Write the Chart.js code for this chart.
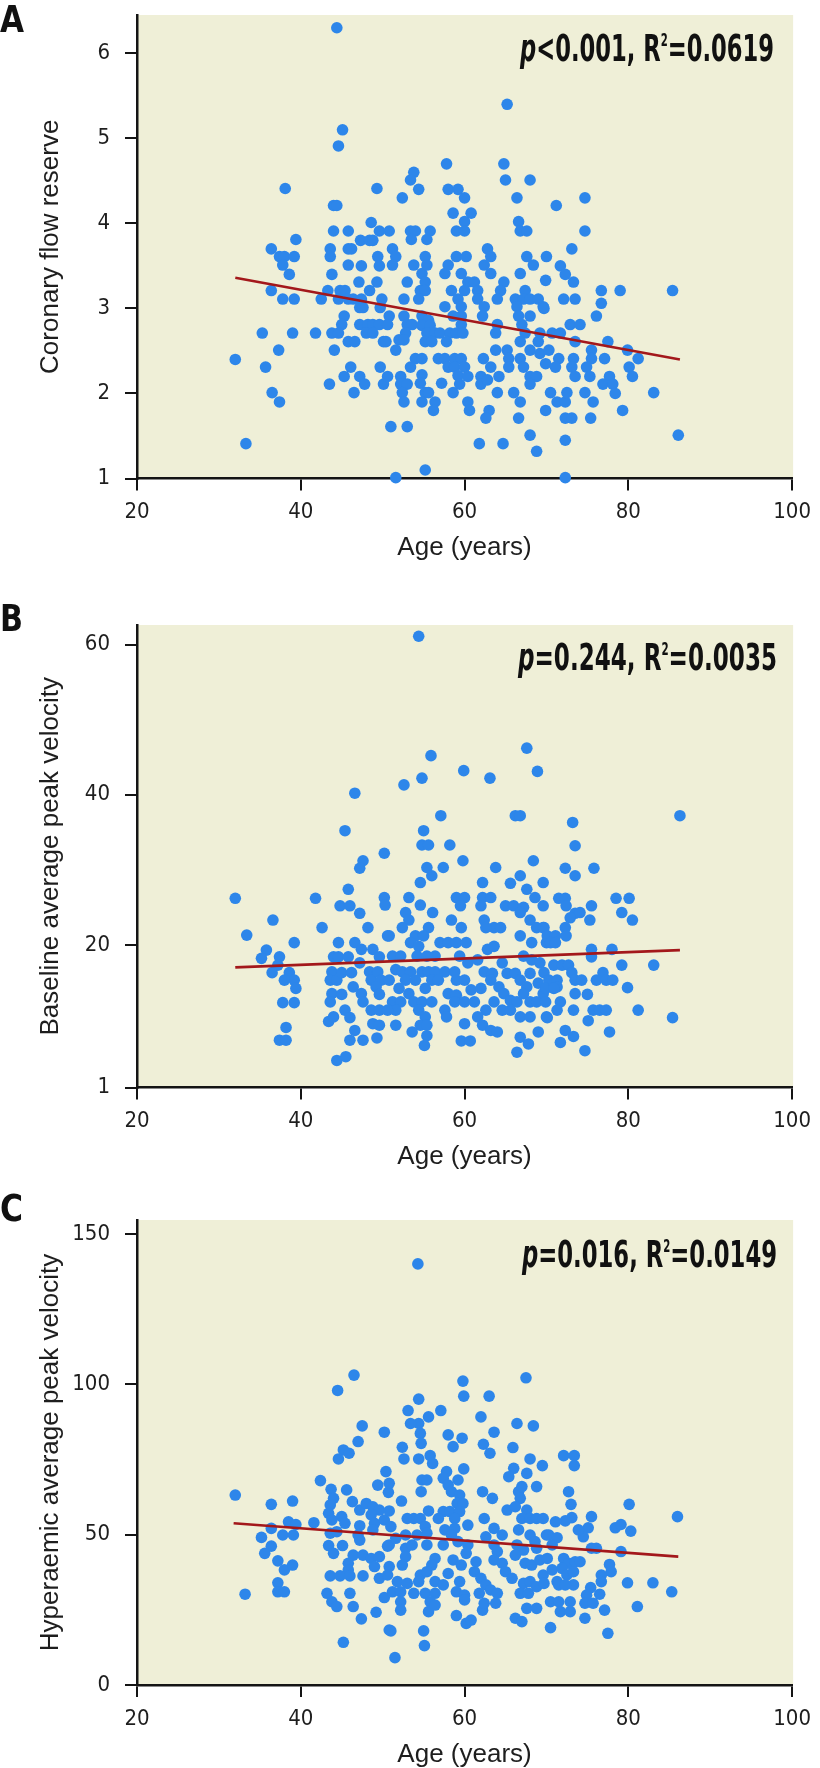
<!DOCTYPE html>
<html><head><meta charset="utf-8">
<script src="https://cdn.jsdelivr.net/npm/chart.js@4.4.1/dist/chart.umd.min.js"></script>
<style>
html,body{margin:0;padding:0;background:#fff;width:820px;height:1768px;overflow:hidden;position:relative;}
canvas{position:absolute;left:0;}
</style></head><body>
<canvas id="cA" width="820" height="600" style="top:-25px"></canvas>
<canvas id="cB" width="820" height="600" style="top:585px"></canvas>
<canvas id="cC" width="820" height="600" style="top:1180px"></canvas>
<script>
// ---------- DATA ----------
const xTicks = [20, 40, 60, 80, 100];

// Panel A: Coronary flow reserve
const yTicksA = [1, 2, 3, 4, 5, 6];
const agesA = [44.4,45.1,44.6,38.1,49.3,44.0,44.4,48.6,44.0,45.8,49.6,39.4,47.3,48.4,48.8,36.4,43.6,45.8,46.2,37.4,38.0,39.2,43.6,49.4,37.8,45.8,47.4,49.6,38.6,43.8,47.1,49.3,36.4,43.3,44.8,45.4,48.4,37.8,39.2,42.5,44.6,45.8,46.4,47.4,49.9,47.2,47.6,49.7,45.3,45.0,47.2,48.2,48.8,49.6,35.3,39.0,41.8,43.8,44.6,48.0,48.8,45.8,46.6,50.1,37.3,44.1,32.0,35.7,46.1,49.7,45.3,47.2,36.5,43.5,47.8,50.1,37.4,46.5,33.3,
65.2,57.8,64.8,53.8,53.4,54.4,52.4,58.0,59.2,60.0,65.0,68.0,66.4,58.6,60.0,60.8,59.0,60.0,50.8,53.4,54.0,55.8,55.4,66.6,66.8,67.6,51.2,51.6,53.5,62.8,63.2,62.4,63.2,59.0,60.2,55.2,67.6,68.4,51.2,53.8,54.8,55.4,58.0,57.6,59.6,60.4,66.8,53.0,55.2,64.8,61.2,61.6,54.6,55.2,58.4,59.2,60.0,64.4,64.0,67.4,52.6,54.4,57.6,59.6,61.6,62.4,66.2,67.2,68.0,69.0,66.4,69.6,50.8,52.6,54.8,55.6,59.6,58.6,62.2,66.6,68.0,50.6,53.0,53.6,54.8,55.8,55.4,59.6,64.0,67.0,52.8,52.0,52.6,56.4,57.0,58.2,59.0,59.8,63.8,67.4,69.2,50.4,55.2,56.0,57.8,63.8,66.8,68.0,69.0,69.2,51.6,54.0,54.8,56.8,57.6,58.8,59.6,62.3,65.2,65.4,66.8,67.2,53.4,58.0,58.8,60.0,63.2,65.4,50.6,52.2,54.8,59.2,60.4,62.0,64.2,68.0,68.8,52.2,53.0,54.6,55.2,57.2,58.6,59.4,62.0,62.8,64.0,66.0,66.8,68.0,52.4,52.6,54.8,55.6,56.4,56.2,60.4,60.6,63.0,62.6,66.6,51.0,53.0,61.8,64.7,68.0,68.8,51.6,55.2,
74.7,71.2,74.7,73.1,70.0,71.7,72.3,69.9,73.3,76.7,79.0,85.4,72.1,73.5,76.7,69.7,76.1,72.9,74.1,70.7,71.7,73.5,77.5,75.5,79.9,70.3,71.5,73.3,75.5,77.1,81.2,69.9,71.1,73.1,74.9,80.1,80.5,73.5,75.3,77.7,76.9,78.1,78.4,70.5,71.3,72.3,72.5,74.7,75.7,83.1,69.9,72.3,73.1,75.4,79.3,72.3,86.1,72.3];
const cfrA = [6.30,5.10,4.91,4.41,4.41,4.21,4.21,4.01,3.91,3.91,3.91,3.81,3.80,3.80,3.80,3.70,3.70,3.70,3.70,3.61,3.61,3.61,3.61,3.61,3.51,3.51,3.50,3.50,3.40,3.40,3.31,3.31,3.21,3.21,3.21,3.21,3.21,3.11,3.11,3.11,3.11,3.11,3.11,3.11,3.11,3.01,3.01,3.01,2.91,2.81,2.81,2.81,2.81,2.81,2.71,2.71,2.71,2.71,2.71,2.71,2.71,2.61,2.61,2.61,2.51,2.51,2.40,2.31,2.31,2.31,2.20,2.20,2.01,2.11,2.11,2.11,1.90,2.01,1.41,
5.40,4.70,4.70,4.60,4.51,4.40,4.30,4.40,4.40,4.30,4.51,4.51,4.30,4.12,4.02,4.12,3.91,3.91,3.91,3.91,3.91,3.91,3.81,4.02,3.91,3.91,3.70,3.61,3.81,3.70,3.61,3.51,3.41,3.61,3.61,3.61,3.61,3.51,3.51,3.51,3.41,3.51,3.51,3.41,3.41,3.31,3.41,3.31,3.31,3.31,3.31,3.21,3.21,3.21,3.21,3.11,3.21,3.21,3.11,3.21,3.11,3.11,3.02,3.02,3.11,3.02,3.11,3.11,3.11,3.11,3.02,3.02,2.91,2.91,2.91,2.86,2.91,2.91,2.91,2.91,2.91,2.81,2.81,2.81,2.80,2.80,2.71,2.81,2.81,2.81,2.71,2.63,2.63,2.71,2.71,2.71,2.71,2.71,2.71,2.71,2.71,2.61,2.61,2.61,2.61,2.51,2.61,2.51,2.61,2.47,2.51,2.41,2.41,2.41,2.41,2.41,2.41,2.41,2.51,2.41,2.41,2.31,2.31,2.31,2.31,2.31,2.31,2.31,2.20,2.20,2.22,2.21,2.20,2.20,2.20,2.20,2.20,2.11,2.11,2.12,2.01,2.12,2.01,2.11,2.11,2.16,2.01,2.01,1.90,2.11,2.01,1.90,1.90,2.01,1.90,1.80,1.90,1.80,1.80,1.71,1.71,1.61,1.61,1.41,1.41,1.51,1.32,1.01,1.10,
4.30,4.21,3.91,3.70,3.61,3.50,3.40,3.33,3.31,3.21,3.21,3.21,3.11,3.11,3.06,3.00,2.91,2.81,2.81,2.71,2.71,2.61,2.61,2.51,2.51,2.51,2.41,2.41,2.41,2.41,2.41,2.35,2.31,2.31,2.31,2.31,2.20,2.20,2.20,2.20,2.11,2.11,2.00,2.01,1.90,1.90,2.01,2.01,1.90,2.01,1.80,1.71,1.71,1.71,1.80,1.45,1.51,1.01];
const fitAgesA = [32.0, 86.3];
const fitCfrA = [3.36, 2.40];
const statsA = ['<0.001', '0.0619'];

// Panel B: Baseline average peak velocity
const yTicksB = [1, 20, 40, 60];
const agesB = [46.6,45.4,50.2,47.6,47.2,32.0,41.8,45.8,44.8,46.0,47.2,50.2,50.3,36.6,42.6,48.2,50.6,33.4,39.2,35.8,35.2,37.4,37.2,36.5,38.6,39.2,39.4,38.0,37.8,39.2,38.2,37.4,38.2,44.6,46.6,44.0,44.6,45.8,47.4,48.8,49.6,43.8,43.6,44.4,45.0,46.2,47.2,48.4,48.6,49.4,49.8,46.4,43.8,45.0,43.6,47.4,47.6,49.2,49.6,45.4,46.0,48.6,49.6,43.4,44.0,46.6,46.0,47.6,48.8,49.6,49.3,44.4,45.5,
54.4,55.9,67.6,68.9,59.9,63.1,54.8,52.6,57.1,66.2,66.8,55.0,54.8,55.6,58.2,59.8,68.4,55.4,56.0,57.4,54.6,62.2,63.8,65.6,66.8,69.6,53.2,59.0,60.0,62.2,63.2,67.6,68.6,54.6,59.5,62.0,65.0,66.0,67.2,69.6,52.8,56.1,53.2,58.4,62.4,63.6,62.6,64.4,66.8,68.0,68.8,69.6,52.4,55.6,59.6,50.8,54.0,55.0,53.4,54.4,57.0,58.0,59.0,60.2,62.8,63.6,66.8,68.2,70.0,51.2,52.2,54.2,55.4,56.4,59.4,60.4,61.6,64.6,67.2,68.2,69.2,51.6,52.4,53.4,54.8,55.6,56.4,57.6,58.8,62.4,63.4,65.2,66.2,68.0,50.8,52.8,54.0,56.0,56.8,59.0,60.0,63.2,64.2,66.8,67.6,69.0,52.0,53.2,55.2,58.0,59.0,60.8,62.0,64.8,65.6,67.2,68.0,69.6,51.2,52.2,53.8,54.8,56.0,58.8,60.0,61.2,63.6,66.4,68.8,51.6,50.6,54.4,55.2,57.6,57.8,62.6,64.6,65.6,66.8,68.0,70.0,51.6,54.6,55.4,60.0,61.6,62.2,63.2,64.0,53.6,55.4,59.6,60.7,69.0,66.8,67.8,55.1,66.4,
86.3,73.2,73.5,72.3,73.5,75.8,78.5,80.1,71.5,72.3,72.4,75.5,79.2,80.5,73.5,74.1,72.9,75.3,72.3,72.4,69.7,70.1,71.1,70.5,71.1,75.5,75.5,78.0,79.2,83.1,70.9,71.9,72.7,73.1,69.7,76.9,76.1,77.3,78.1,70.3,71.3,71.3,73.5,74.3,79.9,69.9,70.9,73.5,75.0,69.9,71.7,71.3,73.3,75.7,76.5,77.3,81.2,70.1,75.1,85.4,72.3,73.3,71.7,77.7,74.7];
const bapvB = [40.2,35.2,32.2,31.2,30.2,26.2,26.2,27.4,25.2,25.2,24.2,26.3,25.3,23.3,22.3,22.3,21.2,21.3,20.3,19.3,18.2,18.4,17.3,16.3,16.3,15.3,14.2,15.3,12.3,12.3,9.0,7.3,7.3,20.3,20.3,18.4,18.4,18.4,19.4,19.4,18.4,16.4,15.3,15.3,16.3,16.3,17.6,16.4,15.3,16.4,15.3,14.4,13.5,13.4,12.4,13.5,12.4,14.4,13.4,11.3,10.3,11.3,11.3,9.8,10.4,8.6,7.3,7.3,9.5,9.3,7.6,4.6,5.1,
61.1,45.2,46.2,43.1,43.2,42.2,42.2,41.3,37.2,37.2,37.2,35.2,33.3,33.3,33.3,31.2,31.2,30.3,29.2,30.3,28.3,28.3,30.3,28.2,29.2,28.3,26.3,26.3,26.3,26.3,26.3,27.4,26.3,25.3,25.2,25.2,25.2,25.2,25.0,25.2,24.3,24.3,23.3,23.3,23.3,22.3,22.3,22.3,24.3,23.3,22.3,22.3,22.3,22.3,22.3,21.2,21.2,21.2,20.3,19.8,20.3,20.3,20.3,20.3,19.4,19.8,21.2,20.3,20.3,18.5,18.5,18.5,18.5,18.5,18.5,17.6,18.0,17.6,18.5,18.0,17.6,16.7,16.4,16.4,16.4,16.4,16.4,16.4,16.4,16.4,16.2,16.2,16.2,16.2,15.3,15.3,15.3,15.3,15.3,15.3,15.3,15.3,14.4,15.3,14.4,14.9,14.2,13.5,14.2,13.5,13.3,14.0,14.2,13.5,12.6,13.5,12.4,13.5,12.4,12.4,12.4,12.4,12.4,12.4,12.4,12.4,12.4,12.4,12.4,11.3,11.3,11.3,10.4,11.3,10.4,11.3,11.3,11.3,10.4,10.4,10.4,9.3,9.3,9.3,9.5,10.4,9.3,8.6,8.4,8.4,7.9,7.2,7.2,8.4,7.7,6.8,6.6,5.7,
37.2,36.3,33.2,30.2,29.2,30.2,26.2,26.2,26.2,26.2,25.2,25.2,24.3,23.3,24.2,24.3,23.6,23.3,22.3,21.2,22.3,21.2,21.2,20.3,20.3,19.4,18.4,19.4,17.3,17.3,17.3,17.3,17.3,16.3,16.3,16.3,15.3,15.3,15.3,15.3,15.3,14.4,15.3,15.3,14.3,14.2,14.2,13.5,13.4,12.4,12.4,11.3,11.3,11.3,11.3,11.3,11.3,10.3,9.9,10.3,8.6,7.8,7.0,8.4,5.9];
const fitAgesB = [32.0, 86.3];
const fitBapvB = [17.0, 19.3];
const statsB = ['=0.244', '0.0035'];

// Panel C: Hyperaemic average peak velocity
const yTicksC = [0, 50, 100, 150];
const agesC = [46.5,44.5,47.5,50.2,47.0,45.2,45.9,44.6,50.4,49.4,50.7,42.4,43.7,45.6,32.0,39.0,36.4,44.0,43.6,46.3,47.2,48.0,48.8,49.6,43.4,43.8,45.0,45.4,48.6,49.0,50.2,41.6,38.5,39.4,36.4,47.2,43.6,44.4,35.2,37.8,39.1,47.0,47.2,48.8,36.4,35.6,43.4,44.0,45.1,50.6,37.2,38.0,39.0,46.4,45.8,47.6,48.6,49.6,45.8,49.0,49.6,43.6,44.8,46.0,47.6,37.2,37.2,38.0,33.2,43.2,43.8,44.4,46.0,46.4,47.4,49.2,50.2,50.8,45.2,
54.3,59.8,67.5,59.9,63.0,54.4,53.1,57.1,55.6,62.0,54.4,54.6,54.7,53.4,66.4,68.4,58.0,58.6,59.7,63.6,62.3,63.1,65.9,52.4,52.6,54.4,55.8,56.1,68.0,69.5,59.9,66.0,57.8,57.4,59.2,54.8,55.4,67.6,65.4,50.8,58.0,58.4,68.8,54.7,62.2,63.4,66.6,67.0,66.8,52.3,59.4,59.1,59.8,65.2,66.2,50.8,55.6,57.4,58.2,59.4,67.6,53.0,53.8,54.6,56.8,58.8,62.4,67.0,68.0,68.8,69.6,51.0,55.2,55.4,57.6,58.8,60.4,63.6,64.6,66.6,52.8,54.2,58.4,59.2,62.6,68.0,68.6,70.0,50.8,51.6,52.8,53.6,55.4,57.4,60.4,60.2,63.6,64.0,66.4,67.2,66.2,68.8,52.8,52.4,56.4,56.0,58.6,59.6,61.4,63.6,64.6,67.4,68.2,69.2,50.8,50.6,54.6,55.4,58.0,61.2,62.0,65.0,65.8,69.6,51.8,53.0,54.4,56.4,57.4,59.4,62.6,63.2,67.2,68.0,51.2,52.2,53.8,55.2,56.4,59.0,60.0,61.8,64.0,66.8,67.8,68.8,52.2,55.8,60.0,63.8,52.2,55.6,56.4,62.2,62.4,67.6,68.8,59.0,60.2,60.8,66.2,67.0,51.0,55.0,55.1,51.5,
72.1,73.4,73.4,72.7,73.0,80.1,86.0,75.5,73.1,72.3,71.1,75.1,74.5,73.9,78.4,79.1,80.3,70.3,71.3,70.7,75.5,76.1,79.1,72.1,72.7,70.1,73.5,74.1,77.7,77.9,70.7,71.9,72.5,73.3,76.7,76.7,69.7,71.3,71.5,73.3,72.3,79.9,83.0,75.4,76.5,74.9,74.7,85.3,70.5,71.5,72.9,75.7,71.7,72.9,77.1,81.1,74.7,70.5,77.5];
const hapvC = [103.1,98.0,86.2,84.1,81.0,78.2,77.1,75.2,71.0,66.5,64.1,68.0,65.1,64.9,63.2,61.2,60.1,62.1,59.9,61.0,58.2,60.4,59.3,58.2,57.1,54.9,56.0,53.8,56.6,53.8,54.9,54.0,54.3,53.4,52.1,53.0,50.5,51.0,49.1,49.9,49.9,49.9,48.2,51.6,46.2,43.8,46.4,43.8,46.4,46.2,41.3,38.3,39.9,43.2,40.5,43.2,42.1,42.7,38.3,39.4,35.5,36.3,36.3,36.3,36.3,34.0,31.0,31.0,30.2,30.5,27.7,26.1,30.5,26.1,22.0,24.2,29.1,18.3,14.2,
140.1,101.1,102.2,96.1,96.1,95.1,91.3,91.3,89.2,89.2,87.0,83.7,80.4,87.0,87.0,86.2,83.2,79.3,82.1,84.1,80.1,77.1,79.0,79.1,75.2,75.2,76.3,73.7,75.2,73.0,71.9,72.1,71.0,68.8,68.2,68.2,68.2,70.4,69.3,67.1,66.5,64.3,66.0,64.3,64.3,62.1,64.3,66.0,62.1,61.2,63.2,60.4,60.4,58.2,59.3,57.9,57.9,57.7,57.7,57.7,58.2,55.4,55.4,55.4,55.4,55.4,55.4,55.4,55.4,55.4,55.4,52.7,52.7,50.5,51.6,52.1,53.2,52.1,49.9,51.6,49.9,49.9,49.9,47.7,49.3,49.9,47.7,49.9,46.6,48.8,45.5,46.6,46.6,46.6,46.6,43.8,46.6,44.4,46.6,44.9,43.2,45.5,42.7,39.9,42.1,39.9,41.6,39.9,41.0,41.6,40.5,40.5,39.9,41.6,39.4,36.6,36.6,37.7,37.1,37.7,35.5,37.7,35.5,36.6,34.4,33.8,34.4,34.4,33.3,34.4,33.3,31.6,33.8,34.4,31.0,31.0,30.5,30.5,30.5,31.0,29.9,30.5,30.5,30.5,30.5,32.7,27.7,27.7,28.3,27.2,24.9,24.4,26.6,24.9,27.2,25.5,25.5,23.1,20.5,21.6,22.2,21.1,18.0,18.0,13.1,9.1,
76.3,76.3,73.0,64.3,60.1,60.1,56.0,56.0,55.7,54.6,54.3,52.3,49.3,51.6,52.3,53.4,51.2,49.9,49.0,46.6,45.5,45.5,44.4,42.1,40.5,42.1,41.0,41.0,40.1,37.7,38.3,38.8,36.6,37.7,36.6,34.4,33.8,34.4,33.3,33.3,33.3,34.0,34.0,32.4,30.2,29.9,27.2,31.0,27.7,27.7,27.7,27.2,24.4,24.4,24.9,26.1,22.2,19.1,17.2];
const fitAgesC = [31.8, 86.1];
const fitHapvC = [53.8, 42.7];
const statsC = ['=0.016', '0.0149'];

// ---------- STYLE ----------
const BG = '#efefd7';
const DOT = '#2d86ea';
const LINE = '#a3181b';
const AXIS = '#141414';
const TXT = '#1e1e1e';
const NARROW = '"Liberation Sans Narrow","Arial Narrow","DejaVu Sans Condensed",sans-serif';
const REG = '"Liberation Sans",Arial,Helvetica,sans-serif';
const CH = 600, PADTOP = 40;

function drawParts(ctx, parts, left, right, base) {
  let total = 0;
  parts.forEach(p => { ctx.font = p.font; p.w = ctx.measureText(p.t).width; total += p.w; });
  const sx = (right - left) / total;
  ctx.save();
  ctx.translate(left, base);
  ctx.scale(sx, 1);
  ctx.fillStyle = '#111';
  ctx.textBaseline = 'alphabetic';
  ctx.textAlign = 'left';
  let x = 0;
  parts.forEach(p => { ctx.font = p.font; ctx.fillText(p.t, x, p.dy || 0); x += p.w; });
  ctx.restore();
}

function panelPlugin(opt) {
  return {
    id: 'panelDeco',
    beforeDraw(chart) {
      const {ctx, chartArea: a} = chart;
      ctx.save();
      ctx.fillStyle = BG;
      ctx.fillRect(a.left, a.top, a.right - a.left + 1, a.bottom - a.top);
      ctx.restore();
    },
    afterDraw(chart) {
      const ctx = chart.ctx;
      const S = 38;
      drawParts(ctx, [{t: opt.letter, font: `bold ${S}px ${NARROW}`}], 0, opt.letterW, opt.letterBase);
      drawParts(ctx, [
        {t: 'p', font: `italic bold ${S}px ${NARROW}`},
        {t: opt.stats[0] + ', R', font: `bold ${S}px ${NARROW}`},
        {t: '2', font: `bold 17px ${NARROW}`, dy: -15},
        {t: '=' + opt.stats[1], font: `bold ${S}px ${NARROW}`}
      ], opt.annL, opt.annR, opt.annBase);
    }
  };
}

function makeChart(id, o) {
  const xH = CH - PADTOP - o.areaH;
  const lh = 26 * 1.2;
  const titlePadB = CH - lh / 2 - (PADTOP + o.areaH + 69.5);
  return new Chart(document.getElementById(id), {
    type: 'scatter',
    data: {
      datasets: [
        {type: 'line', data: o.fitX.map((x, i) => ({x, y: o.fitY[i]})), borderColor: LINE, borderWidth: 2.6,
         pointRadius: 0, fill: false, tension: 0, order: 0},
        {data: o.xs.map((x, i) => ({x, y: o.ys[i]})), backgroundColor: DOT, borderWidth: 0,
         pointRadius: 5.8, pointHoverRadius: 5.8, order: 1, clip: false}
      ]
    },
    options: {
      responsive: false, animation: false, events: [],
      layout: {padding: {top: PADTOP, right: 16, left: 0, bottom: 0}},
      plugins: {legend: {display: false}, tooltip: {enabled: false}},
      scales: {
        x: {
          type: 'linear', min: 20, max: 100,
          afterBuildTicks: s => { s.ticks = xTicks.map(v => ({value: v})); },
          afterFit: s => { s.height = xH; },
          grid: {drawOnChartArea: false, drawTicks: true, tickLength: 12, color: AXIS, lineWidth: 2},
          border: {display: true, color: AXIS, width: 2.5},
          ticks: {font: {family: NARROW, size: 22}, color: TXT, padding: 9, maxRotation: 0, autoSkip: false},
          title: {display: true, text: 'Age (years)', font: {family: REG, size: 26}, color: TXT,
                  padding: {top: 0, bottom: titlePadB}}
        },
        y: {
          type: 'linear', min: o.yMin, max: o.yMax,
          afterBuildTicks: s => { s.ticks = o.yTicks.map(v => ({value: v})); },
          afterFit: s => { s.width = 137; },
          grid: {drawOnChartArea: false, drawTicks: true, tickLength: 12, color: AXIS, lineWidth: 2},
          border: {display: true, color: AXIS, width: 2.5},
          ticks: {font: {family: NARROW, size: 22}, color: TXT, padding: 15, autoSkip: false},
          title: {display: true, text: o.yTitle, font: {family: REG, size: 26}, color: TXT,
                  padding: {top: 35, bottom: 0}}
        }
      }
    },
    plugins: [panelPlugin(o)]
  });
}

makeChart('cA', {xs: agesA, ys: cfrA, fitX: fitAgesA, fitY: fitCfrA, yMin: 1, yMax: 6.45, yTicks: yTicksA,
  yTitle: 'Coronary flow reserve', areaH: 463.5, letter: 'A', letterW: 24, letterBase: 57,
  stats: statsA, annL: 520, annR: 774, annBase: 86});
makeChart('cB', {xs: agesB, ys: bapvB, fitX: fitAgesB, fitY: fitBapvB, yMin: 1, yMax: 62.6, yTicks: yTicksB,
  yTitle: 'Baseline average peak velocity', areaH: 462.5, letter: 'B', letterW: 23, letterBase: 46,
  stats: statsB, annL: 518, annR: 777, annBase: 85});
makeChart('cC', {xs: agesC, ys: hapvC, fitX: fitAgesC, fitY: fitHapvC, yMin: 0, yMax: 154.7, yTicks: yTicksC,
  yTitle: 'Hyperaemic average peak velocity', areaH: 465, letter: 'C', letterW: 23, letterBase: 41,
  stats: statsC, annL: 522, annR: 777, annBase: 86.5});
</script>
</body></html>
